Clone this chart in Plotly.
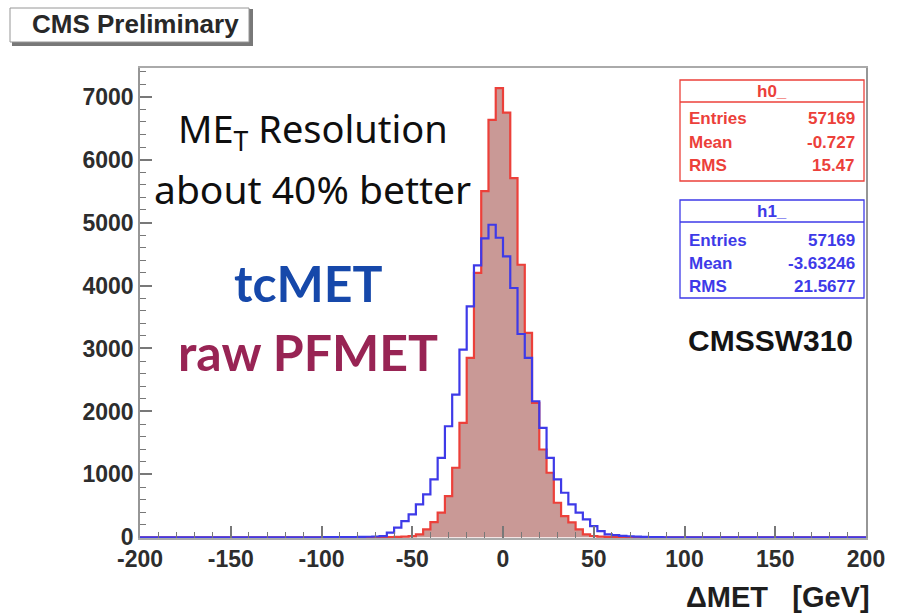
import plotly.graph_objects as go

# ---- histogram binning: 100 bins of 4 GeV from -200 to 200 ----
x_min, x_max, bin_w = -200, 200, 4
edges = list(range(x_min, x_max + bin_w, bin_w))

# h0_ (raw PFMET, red, filled): counts keyed by the bin's lower edge
h0_counts = {
    -72: 3, -68: 4, -64: 5, -60: 8, -56: 12, -52: 20, -48: 48, -44: 127,
    -40: 243, -36: 392, -32: 655, -28: 1106, -24: 1820, -20: 2850,
    -16: 4200, -12: 5500, -8: 6630, -4: 7134, 0: 6747, 4: 5706, 8: 4330,
    12: 3247, 16: 2137, 20: 1396, 24: 1026, 28: 550, 32: 338, 36: 238,
    40: 127, 44: 48, 48: 22, 52: 12, 56: 8, 60: 5, 64: 3, 68: 2,
}

# h1_ (tcMET, blue, outline only)
h1_counts = {
    -100: 3, -96: 4, -92: 5, -88: 5, -84: 6, -80: 8, -76: 10, -72: 14,
    -68: 21, -64: 75, -60: 154, -56: 259, -52: 365, -48: 523, -44: 682,
    -40: 920, -36: 1264, -32: 1765, -28: 2268, -24: 2982, -20: 3669,
    -16: 4320, -12: 4750, -8: 4965, -4: 4759, 0: 4462, 4: 3961, 8: 3230,
    12: 2850, 16: 2162, 20: 1740, 24: 1264, 28: 920, 32: 709, 36: 523,
    40: 392, 44: 286, 48: 179, 52: 100, 56: 48, 60: 35, 64: 25, 68: 18,
    72: 12, 76: 8, 80: 5, 84: 3,
}

# statistics box contents
h0_stats = [("Entries", "57169"), ("Mean", "-0.727"), ("RMS", "15.47")]
h1_stats = [("Entries", "57169"), ("Mean", "-3.63246"), ("RMS", "21.5677")]

x_ticks = [-200, -150, -100, -50, 0, 50, 100, 150, 200]
y_ticks = [0, 1000, 2000, 3000, 4000, 5000, 6000, 7000]
y_top = 7455

RED = "rgb(236,64,58)"
RED_FILL = "rgb(201,153,150)"
BLUE = "rgb(62,58,232)"
TXT = "rgb(45,45,45)"

W, H = 897, 615
L, R, T, B = 140, 866, 68, 538   # plot area in pixels


def px(x):
    return (x - L) / (R - L)


def py(y):
    return (B - y) / (B - T)


def step_y(counts):
    ys = [counts.get(e, 0) for e in edges[:-1]]
    return ys + [ys[-1]]


fig = go.Figure()
fig.add_trace(go.Scatter(
    x=edges, y=step_y(h0_counts), mode="lines", line_shape="hv",
    line=dict(color=RED, width=2.2), fill="tozeroy", fillcolor=RED_FILL,
    name="h0_", hoverinfo="skip"))
fig.add_trace(go.Scatter(
    x=edges, y=step_y(h1_counts), mode="lines", line_shape="hv",
    line=dict(color=BLUE, width=2.2), name="h1_", hoverinfo="skip"))

font_main = "Liberation Sans, Arial, sans-serif"

fig.update_layout(
    width=W, height=H,
    margin=dict(l=L, r=W - R, t=T, b=H - B, pad=0),
    paper_bgcolor="white", plot_bgcolor="white",
    showlegend=False,
    font=dict(family=font_main, color=TXT),
    xaxis=dict(
        range=[x_min, x_max], tickvals=x_ticks,
        ticktext=[str(v) for v in x_ticks],
        ticks="inside", ticklen=12, tickwidth=1.5, tickcolor="rgb(120,120,120)",
        minor=dict(dtick=10, ticks="inside", ticklen=6, tickwidth=1.2,
                   tickcolor="rgb(120,120,120)"),
        showline=True, mirror=True, linecolor="rgb(170,170,170)", linewidth=1.5,
        showgrid=False, zeroline=False,
        tickfont=dict(size=23, family=font_main, color=TXT, weight="bold"),
    ),
    yaxis=dict(
        range=[-10, y_top], tickvals=y_ticks,
        ticktext=[str(v) for v in y_ticks],
        ticks="inside", ticklen=12, tickwidth=1.5, tickcolor="rgb(120,120,120)",
        minor=dict(dtick=200, ticks="inside", ticklen=6, tickwidth=1.2,
                   tickcolor="rgb(120,120,120)"),
        showline=True, mirror=True, linecolor="rgb(150,150,150)", linewidth=1.5,
        showgrid=False, zeroline=False,
        tickfont=dict(size=23, family=font_main, color=TXT, weight="bold"),
    ),
)

shapes = []
ann = []

# "CMS Preliminary" label box with drop shadow
shapes.append(dict(type="rect", xref="paper", yref="paper",
                   x0=px(13), x1=px(252), y0=py(45), y1=py(10),
                   line=dict(color="rgb(120,120,120)", width=2),
                   fillcolor="rgb(120,120,120)", layer="above"))
shapes.append(dict(type="rect", xref="paper", yref="paper",
                   x0=px(10), x1=px(249), y0=py(42), y1=py(8),
                   line=dict(color="rgb(150,150,150)", width=1),
                   fillcolor="white", layer="above"))
ann.append(dict(text="CMS Preliminary", x=px(135), y=py(24), xref="paper",
                yref="paper", showarrow=False, xanchor="center", yanchor="middle",
                font=dict(size=26, family=font_main, color="rgb(40,40,40)",
                          weight="bold")))


def stats_box(name, rows, color, top, header_bot, bottom, row_y):
    left, right = 680, 864
    shapes.append(dict(type="rect", xref="paper", yref="paper",
                       x0=px(left), x1=px(right), y0=py(bottom), y1=py(top),
                       line=dict(color=color, width=1.3), fillcolor="white",
                       layer="above"))
    shapes.append(dict(type="line", xref="paper", yref="paper",
                       x0=px(left), x1=px(right), y0=py(header_bot),
                       y1=py(header_bot), line=dict(color=color, width=1.3),
                       layer="above"))
    ann.append(dict(text=name, x=px((left + right) / 2),
                    y=py((top + header_bot) / 2), xref="paper", yref="paper",
                    showarrow=False, xanchor="center", yanchor="middle",
                    font=dict(size=17, color=color, weight="bold")))
    for (lab, val), yy in zip(rows, row_y):
        ann.append(dict(text=lab, x=px(left + 7), y=py(yy), xref="paper",
                        yref="paper", showarrow=False, xanchor="left",
                        yanchor="middle",
                        font=dict(size=17, color=color, weight="bold")))
        ann.append(dict(text=val, x=px(right - 7), y=py(yy), xref="paper",
                        yref="paper", showarrow=False, xanchor="right",
                        yanchor="middle",
                        font=dict(size=17, color=color, weight="bold")))


stats_box("h0_", h0_stats, RED, 80, 102, 181, [118, 142, 165])
stats_box("h1_", h1_stats, BLUE, 200, 222, 298, [240, 263, 286])

ann.append(dict(text="CMSSW310", x=px(770), y=py(340), xref="paper",
                yref="paper", showarrow=False, xanchor="center",
                yanchor="middle",
                font=dict(size=30, color="rgb(20,20,20)", weight="bold")))

# handwritten-style notes
hand = "Noto Sans, DejaVu Sans, sans-serif"
ann.append(dict(text="ME<sub>T</sub> Resolution", x=px(313), y=py(130),
                xref="paper", yref="paper", showarrow=False, xanchor="center",
                yanchor="middle",
                font=dict(size=38, family=hand, color="rgb(15,15,15)")))
ann.append(dict(text="about 40% better", x=px(312), y=py(188),
                xref="paper", yref="paper", showarrow=False, xanchor="center",
                yanchor="middle",
                font=dict(size=39, family=hand, color="rgb(15,15,15)")))
ann.append(dict(text="tcMET", x=px(308), y=py(283), xref="paper", yref="paper",
                showarrow=False, xanchor="center", yanchor="middle",
                font=dict(size=50, family="Lato, Roboto, sans-serif",
                          color="rgb(22,72,170)", weight="bold")))
ann.append(dict(text="raw PFMET", x=px(308), y=py(352), xref="paper",
                yref="paper", showarrow=False, xanchor="center",
                yanchor="middle",
                font=dict(size=50, family="Lato, Roboto, sans-serif",
                          color="rgb(152,36,84)", weight="bold")))

# axis title
ann.append(dict(text="\u0394MET   [GeV]", x=px(872), y=py(597), xref="paper",
                yref="paper", showarrow=False, xanchor="right",
                yanchor="middle",
                font=dict(size=29, family=font_main, color="rgb(30,30,30)",
                          weight="bold")))

fig.update_layout(shapes=shapes, annotations=ann)
fig.write_html("out.html")
